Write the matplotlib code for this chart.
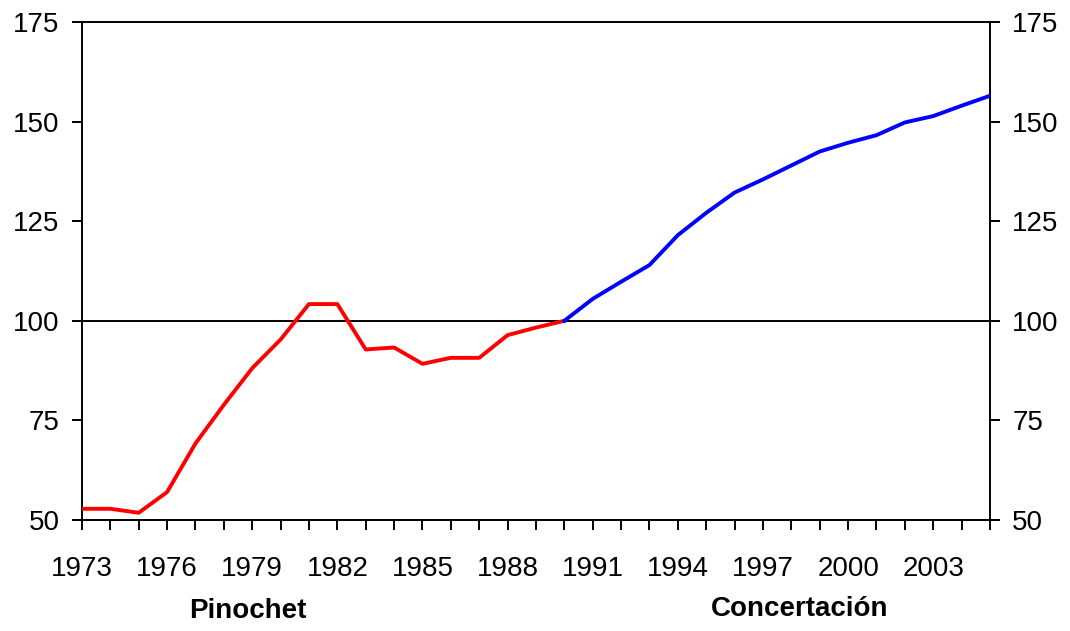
import matplotlib.pyplot as plt
from matplotlib.ticker import MultipleLocator

plt.rcParams['font.family'] = ['Liberation Sans', 'DejaVu Sans']

years_pin = list(range(1973, 1991))
vals_pin = [52.8, 52.8, 51.8, 57.0, 69.2, 78.9, 88.1, 95.3, 104.2, 104.2,
            92.8, 93.3, 89.2, 90.7, 90.7, 96.4, 98.3, 100.0]
years_con = list(range(1990, 2006))
vals_con = [100.0, 105.5, 109.8, 114.0, 121.5, 127.1, 132.2, 135.5, 139.0,
            142.5, 144.7, 146.6, 149.8, 151.4, 154.0, 156.5]
xtick_labels = list(range(1973, 2004, 3))
yticks = [50, 75, 100, 125, 150, 175]

fig = plt.figure(figsize=(10.7, 6.31), dpi=100)
ax = fig.add_axes([0.0766, 0.176, 0.8486, 0.789])

ax.axhline(100, color='black', lw=1.4, zorder=1)
ax.plot(years_pin, vals_pin, color='#ff0000', lw=2.8, zorder=3)
ax.plot(years_con, vals_con, color='#0000ff', lw=2.8, zorder=3)

ax.set_xlim(1973, 2005)
ax.set_ylim(50, 175)
ax.set_xticks(xtick_labels)
ax.set_xticklabels([str(y) for y in xtick_labels])
ax.xaxis.set_minor_locator(MultipleLocator(1))
ax.set_yticks(yticks)

ax.tick_params(axis='x', which='both', direction='out', length=7, width=1.4, pad=19, labelsize=20)
ax.tick_params(axis='y', direction='out', length=7, width=1.4, labelsize=20,
               right=True, labelright=True, pad=9)
for s in ax.spines.values():
    s.set_linewidth(1.4)

fig.text(248 / 1070, 1 - 611 / 631, 'Pinochet', ha='center', va='center',
         fontsize=20, fontweight='bold')
fig.text(800 / 1070, 1 - 609 / 631, 'Concertación', ha='center', va='center',
         fontsize=20, fontweight='bold')

fig.savefig('out.png', dpi=100)
